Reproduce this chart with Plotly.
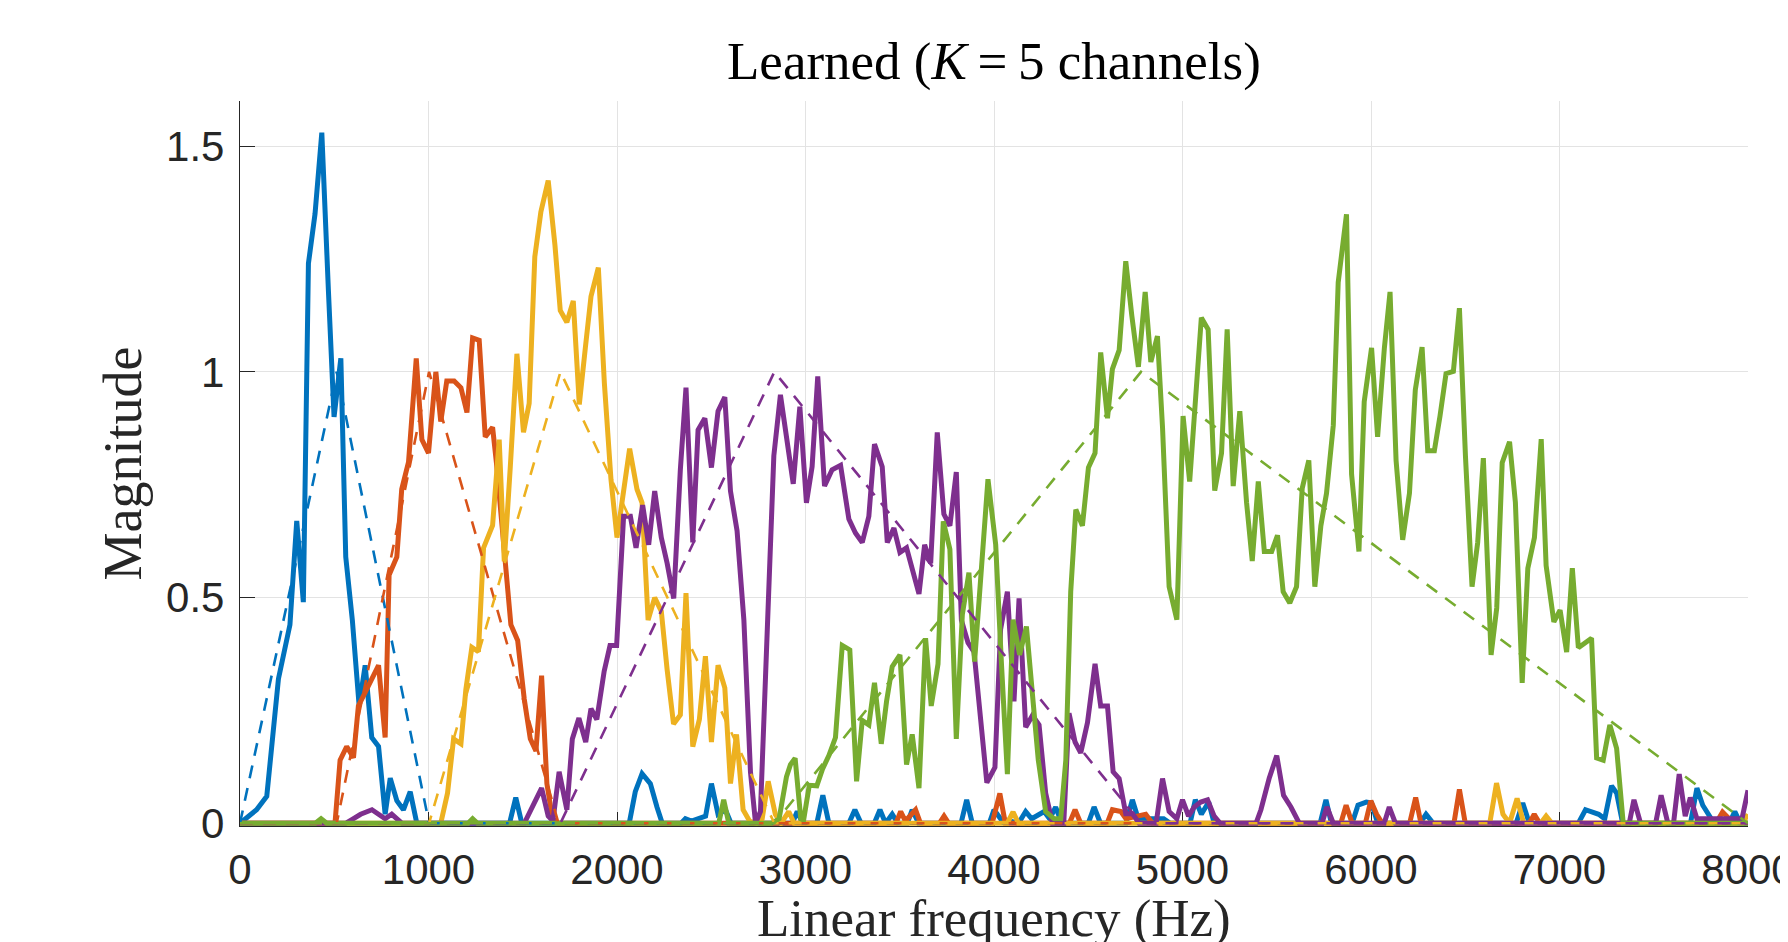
import plotly.graph_objects as go

# ---------------- data ----------------
x_ticks = [0, 1000, 2000, 3000, 4000, 5000, 6000, 7000, 8000]
y_ticks = [0, 0.5, 1, 1.5]
y_tick_text = ["0", "0.5", "1", "1.5"]

colors = ["#0072BD", "#D95319", "#EDB120", "#7E2F8E", "#77AC30"]

# learned filters (solid)
f_ch1 = [0, 88, 142, 204, 265, 301, 336, 363, 398, 434, 469, 499, 535, 561, 596, 632, 664, 699, 735, 770, 797, 832,
         867, 903, 938, 1430, 1463, 1495, 2065, 2097, 2133, 2177, 2212, 2240, 2340, 2363, 2395, 2440, 2470, 2501,
         2536, 2575, 2605, 2930, 2956, 2985, 3060, 3092, 3124, 3230, 3262, 3295, 3365, 3395, 3425, 3460, 3490,
         3540, 3566, 3600, 3825, 3855, 3885, 3975, 4000, 4035, 4130, 4168, 4200, 4266, 4295, 4327, 4360, 4500,
         4531, 4565, 4700, 4734, 4765, 4900, 4935, 5040, 5068, 5100, 5139, 5168, 5730, 5761, 5790, 5900, 5931,
         5975, 6003, 6035, 6260, 6292, 6330, 6770, 6805, 6840, 7100, 7138, 7170, 7208, 7240, 7276, 7303, 7335,
         7695, 7729, 7760, 7791, 7820, 7900, 7930, 7960, 8000]
m_ch1 = [0, 0.03, 0.06, 0.32, 0.44, 0.67, 0.49, 1.24, 1.35, 1.53, 1.18, 0.90, 1.03, 0.59, 0.45, 0.26, 0.35, 0.19,
         0.17, 0.02, 0.10, 0.05, 0.03, 0.07, 0, 0, 0.057, 0, 0, 0.07, 0.11, 0.088, 0.036, 0, 0, 0.01, 0.005, 0.01,
         0.016, 0.088, 0.02, 0.03, 0, 0, 0.026, 0, 0, 0.062, 0, 0, 0.03, 0, 0, 0.03, 0, 0.02, 0, 0, 0.03, 0, 0,
         0.052, 0, 0, 0.03, 0.01, 0, 0.026, 0.01, 0.026, 0.01, 0.036, 0, 0, 0.036, 0, 0, 0.052, 0.01, 0.01, 0, 0,
         0.052, 0.02, 0.047, 0, 0, 0.052, 0, 0, 0.04, 0.047, 0.045, 0, 0, 0.02, 0, 0, 0.045, 0, 0, 0.03, 0.025,
         0.02, 0.01, 0.083, 0.067, 0, 0, 0.078, 0.04, 0.02, 0, 0, 0.026, 0, 0]

f_ch2 = [0, 504, 531, 566, 602, 628, 664, 699, 735, 770, 791, 832, 858, 894, 912, 935, 965, 1000, 1039, 1065,
         1097, 1136, 1172, 1204, 1234, 1269, 1301, 1340, 1360, 1402, 1437, 1473, 1508, 1540, 1570, 1600, 1628,
         1658, 1690, 3480, 3505, 3530, 3584, 3610, 3710, 3735, 3760, 3990, 4031, 4060, 4400, 4430, 4460, 4600,
         4628, 4673, 4700, 4805, 4840, 5840, 5868, 5900, 5970, 5999, 6030, 6060, 6205, 6237, 6265, 6440, 6469,
         6500, 6840, 6866, 6895, 7830, 7865, 7900, 7960, 8000]
m_ch2 = [0, 0, 0.14, 0.17, 0.145, 0.26, 0.29, 0.32, 0.35, 0.19, 0.55, 0.59, 0.74, 0.80, 0.89, 1.03, 0.85, 0.82,
         1.0, 0.89, 0.98, 0.98, 0.965, 0.91, 1.075, 1.07, 0.856, 0.877, 0.80, 0.60, 0.44, 0.405, 0.275, 0.187,
         0.16, 0.327, 0.088, 0.01, 0, 0, 0.026, 0.005, 0.03, 0, 0, 0.016, 0, 0, 0.066, 0, 0, 0.03, 0, 0, 0.03,
         0.026, 0.01, 0.02, 0, 0, 0.04, 0, 0, 0.05, 0.02, 0, 0, 0.057, 0, 0, 0.075, 0, 0, 0.02, 0, 0, 0.025,
         0.01, 0.005, 0]

f_ch3 = [0, 1065, 1101, 1133, 1172, 1198, 1230, 1265, 1292, 1340, 1375, 1402, 1434, 1469, 1504, 1534, 1564, 1596,
         1635, 1671, 1699, 1734, 1768, 1800, 1832, 1862, 1901, 1933, 1968, 2000, 2067, 2106, 2133, 2165, 2200,
         2235, 2266, 2300, 2336, 2366, 2402, 2437, 2469, 2501, 2536, 2572, 2602, 2634, 2669, 2703, 2740, 2770,
         2802, 2840, 2870, 2911, 2940, 4070, 4101, 4130, 6630, 6666, 6700, 6735, 6775, 6810, 6900, 6929, 6960,
         7970, 8000]
m_ch3 = [0, 0, 0.067, 0.187, 0.176, 0.296, 0.39, 0.38, 0.61, 0.66, 0.85, 0.58, 0.79, 1.04, 0.866, 0.93, 1.255,
         1.354, 1.424, 1.28, 1.136, 1.11, 1.157, 0.928, 1.053, 1.167, 1.231, 0.975, 0.762, 0.633, 0.83, 0.74, 0.71,
         0.45, 0.50, 0.47, 0.34, 0.22, 0.24, 0.51, 0.17, 0.23, 0.37, 0.18, 0.35, 0.30, 0.088, 0.197, 0.03, 0.005,
         0, 0.01, 0.093, 0.02, 0, 0.026, 0, 0, 0.025, 0, 0, 0.089, 0.02, 0, 0.055, 0, 0, 0.016, 0, 0, 0.02]

f_ch4 = [0, 560, 600, 640, 700, 740, 770, 805, 860, 1508, 1561, 1600, 1635, 1660, 1693, 1734, 1763, 1798, 1834,
         1862, 1893, 1932, 1963, 1998, 2035, 2071, 2101, 2136, 2168, 2200, 2235, 2266, 2301, 2336, 2366, 2402,
         2430, 2466, 2501, 2536, 2572, 2602, 2637, 2673, 2708, 2735, 2761, 2802, 2832, 2867, 2903, 2935, 2970,
         3005, 3035, 3065, 3101, 3141, 3186, 3230, 3265, 3301, 3336, 3366, 3407, 3434, 3469, 3501, 3536, 3566,
         3602, 3632, 3664, 3699, 3734, 3766, 3800, 3827, 3862, 3894, 3938, 3962, 4005, 4035, 4071, 4106, 4133,
         4168, 4204, 4239, 4274, 4310, 4370, 4398, 4430, 4460, 4496, 4536, 4566, 4602, 4632, 4664, 4699, 4735,
         4770, 4860, 4894, 4929, 4970, 5000, 5032, 5062, 5097, 5133, 5168, 5200, 5390, 5416, 5460, 5500, 5536,
         5575, 5620, 5740, 5766, 5800, 6070, 6097, 6130, 7370, 7395, 7430, 7510, 7539, 7575, 7605, 7635, 7667,
         7694, 7729, 7968, 8000]
m_ch4 = [0, 0, 0.01, 0.02, 0.03, 0.02, 0.01, 0.02, 0, 0, 0.047, 0.078, 0.016, 0.005, 0.114, 0.03, 0.187, 0.233,
         0.18, 0.254, 0.23, 0.337, 0.394, 0.394, 0.68, 0.68, 0.61, 0.705, 0.617, 0.736, 0.633, 0.576, 0.498, 0.783,
         0.965, 0.622, 0.871, 0.897, 0.788, 0.913, 0.944, 0.736, 0.648, 0.451, 0.114, 0, 0.026, 0.524, 0.814,
         0.949, 0.845, 0.752, 0.923, 0.71, 0.79, 0.99, 0.747, 0.783, 0.793, 0.674, 0.643, 0.622, 0.68, 0.84, 0.79,
         0.622, 0.654, 0.60, 0.61, 0.56, 0.508, 0.617, 0.576, 0.866, 0.685, 0.659, 0.778, 0.45, 0.40, 0.38, 0.19,
         0.09, 0.124, 0.43, 0.513, 0.27, 0.498, 0.213, 0.239, 0.218, 0.067, 0, 0, 0.244, 0.18, 0.156, 0.223,
         0.353, 0.26, 0.26, 0.114, 0.099, 0.021, 0.021, 0, 0, 0.099, 0.026, 0.01, 0.052, 0.016, 0.036, 0.047,
         0.052, 0.016, 0, 0, 0.03, 0.1, 0.15, 0.062, 0.036, 0, 0, 0.036, 0, 0, 0.036, 0, 0, 0.052, 0, 0, 0.062,
         0, 0, 0.109, 0.016, 0.057, 0.01, 0.01, 0.073]

f_ch5 = [0, 400, 430, 460, 1210, 1234, 1260, 2540, 2566, 2593, 2820, 2860, 2899, 2920, 2945, 2975, 2990, 3020,
         3060, 3090, 3124, 3159, 3195, 3235, 3271, 3301, 3336, 3366, 3402, 3430, 3460, 3501, 3536, 3566, 3602,
         3637, 3667, 3703, 3731, 3766, 3800, 3832, 3867, 3897, 3968, 4009, 4040, 4071, 4101, 4136, 4172, 4204,
         4235, 4274, 4319, 4354, 4381, 4407, 4434, 4469, 4501, 4536, 4566, 4602, 4628, 4664, 4699, 4731, 4766,
         4802, 4832, 4867, 4894, 4929, 4970, 5003, 5038, 5100, 5136, 5171, 5207, 5237, 5269, 5304, 5340, 5370,
         5402, 5434, 5473, 5504, 5534, 5569, 5605, 5635, 5670, 5702, 5734, 5764, 5800, 5826, 5870, 5897, 5936,
         5964, 6003, 6035, 6071, 6101, 6133, 6168, 6204, 6235, 6271, 6301, 6336, 6366, 6398, 6437, 6469, 6501,
         6536, 6566, 6596, 6637, 6667, 6696, 6735, 6766, 6802, 6832, 6867, 6903, 6929, 6970, 7003, 7038, 7068,
         7100, 7170, 7197, 7232, 7267, 7303, 7338, 8000]
m_ch5 = [0, 0, 0.01, 0, 0, 0.01, 0, 0, 0.052, 0, 0, 0.01, 0.103, 0.13, 0.144, 0.01, 0.007, 0.084, 0.083, 0.12,
         0.15, 0.19, 0.394, 0.384, 0.093, 0.228, 0.218, 0.311, 0.176, 0.27, 0.347, 0.373, 0.13, 0.197, 0.078,
         0.41, 0.26, 0.353, 0.669, 0.607, 0.187, 0.462, 0.555, 0.358, 0.762, 0.617, 0.35, 0.109, 0.451, 0.373,
         0.436, 0.275, 0.14, 0.026, 0.01, 0.01, 0.14, 0.513, 0.695, 0.659, 0.788, 0.82, 1.043, 0.897, 1.006, 1.048,
         1.245, 1.125, 1.011, 1.177, 1.022, 1.079, 0.877, 0.524, 0.451, 0.902, 0.757, 1.12, 1.094, 0.737, 0.82,
         1.094, 0.747, 0.913, 0.71, 0.581, 0.757, 0.602, 0.602, 0.638, 0.513, 0.488, 0.524, 0.742, 0.804, 0.524,
         0.659, 0.731, 0.882, 1.198, 1.349, 0.773, 0.602, 0.934, 1.053, 0.856, 1.053, 1.177, 0.804, 0.628, 0.731,
         0.96, 1.055, 0.825, 0.825, 0.902, 0.996, 1.001, 1.141, 0.814, 0.524, 0.622, 0.809, 0.373, 0.477, 0.799,
         0.845, 0.711, 0.311, 0.565, 0.633, 0.851, 0.571, 0.446, 0.472, 0.379, 0.565, 0.389, 0.41, 0.145, 0.14,
         0.218, 0.166, 0, 0]

# reference triangular filters (dashed)
tri_f1 = [0, 513, 1003, 8000]
tri_m1 = [0, 1, 0, 0]
tri_f2 = [0, 513, 1003, 1690, 8000]
tri_m2 = [0, 0, 1, 0, 0]
tri_f3 = [0, 1003, 1700, 2835, 8000]
tri_m3 = [0, 0, 1, 0, 0]
tri_f4 = [0, 1700, 2835, 4780, 8000]
tri_m4 = [0, 0, 1, 0, 0]
tri_f5 = [0, 2835, 4780, 8000]
tri_m5 = [0, 0, 1, 0]

solid = [(f_ch1, m_ch1), (f_ch2, m_ch2), (f_ch3, m_ch3), (f_ch4, m_ch4), (f_ch5, m_ch5)]
dashed = [(tri_f1, tri_m1), (tri_f2, tri_m2), (tri_f3, tri_m3), (tri_f4, tri_m4), (tri_f5, tri_m5)]

fig = go.Figure()
for (fx, my), c in zip(solid, colors):
    fig.add_trace(go.Scatter(x=fx, y=my, mode="lines", line=dict(color=c, width=5),
                             showlegend=False, hoverinfo="skip"))
for (fx, my), c in zip(dashed, colors):
    fig.add_trace(go.Scatter(x=fx, y=my, mode="lines", line=dict(color=c, width=2.6, dash="13px,10px"),
                             showlegend=False, hoverinfo="skip"))

axis_col = "#262626"
grid_col = "#e3e3e3"
tick_font = dict(family="Liberation Sans, Arial, sans-serif", size=42, color=axis_col)
serif = "Liberation Serif, Times New Roman, serif"

fig.update_layout(
    width=1780, height=934,
    margin=dict(l=232, r=40, t=93, b=116, autoexpand=False),
    paper_bgcolor="white", plot_bgcolor="white",
    xaxis=dict(range=[0, 8000], tickvals=x_ticks, ticktext=[str(v) for v in x_ticks],
               showgrid=True, gridcolor=grid_col, gridwidth=1.3, zeroline=False,
               showline=True, linecolor=axis_col, linewidth=1.3, mirror=False,
               ticks="inside", ticklen=14, tickwidth=1.3, tickcolor=axis_col,
               tickfont=tick_font, layer="below traces", ticklabelstandoff=6,
               ticklabeloverflow="allow"),
    yaxis=dict(range=[-0.006, 1.6], tickvals=y_ticks, ticktext=y_tick_text,
               showgrid=True, gridcolor=grid_col, gridwidth=1.3, zeroline=False,
               showline=True, linecolor=axis_col, linewidth=1.3, mirror=False,
               ticks="inside", ticklen=15, tickwidth=1.3, tickcolor=axis_col,
               tickfont=tick_font, layer="below traces", ticklabelstandoff=6,
               ticklabeloverflow="allow"),
    annotations=[
        dict(text="Learned (<i>K</i>\u2009=\u20095 channels)", xref="paper", yref="paper",
             x=0.5, y=1.0549, xanchor="center", yanchor="middle", showarrow=False,
             font=dict(family=serif, size=53, color="black")),
        dict(text="Magnitude", xref="paper", yref="paper", x=-0.0776, y=0.5, textangle=-90,
             xanchor="center", yanchor="middle", showarrow=False,
             font=dict(family=serif, size=54, color=axis_col)),
        dict(text="Linear frequency (Hz)", xref="paper", yref="paper", x=0.5, y=-0.128,
             xanchor="center", yanchor="middle", showarrow=False,
             font=dict(family=serif, size=53, color=axis_col)),
    ],
)

fig.write_html("out.html")
